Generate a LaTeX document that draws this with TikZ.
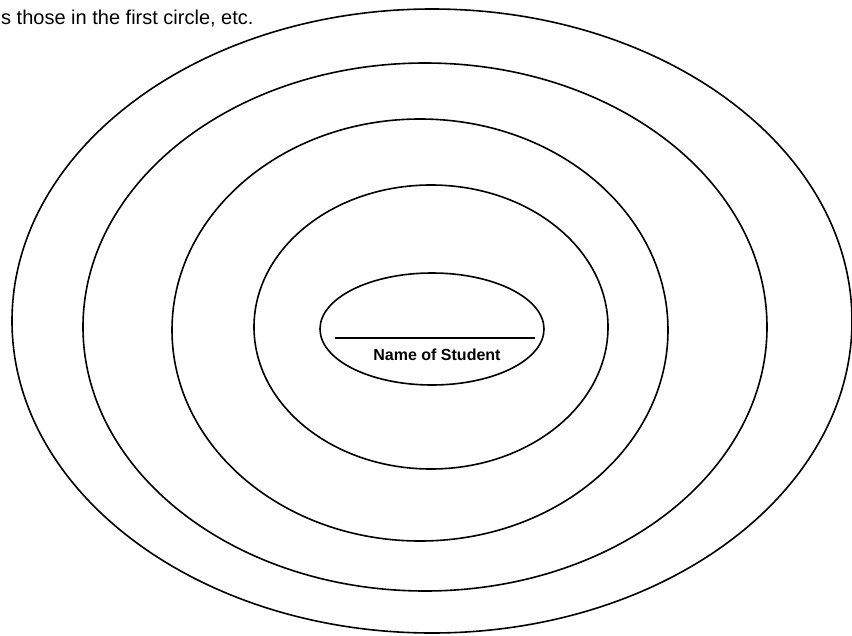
\documentclass[tikz,border=0pt]{standalone}
\usepackage{fontspec}
\setmainfont{Liberation Sans}
\usepackage{tikz}

\begin{document}
\begin{tikzpicture}[x=1pt, y=-1pt]

    % Frame (page size)
    \useasboundingbox (0,0) rectangle (852,635);
    \clip (0,0) rectangle (852,635);

    \tikzset{ring/.style={line width=1.6pt}}

    % Instruction text (cut off at the left)
    \node[anchor=base west, inner sep=0pt, font=\fontsize{20}{22}\selectfont]
        (caption) at (1,24) {s those in the first circle, etc.};

    % Fifth ring (outermost)
    \draw[ring] (432,321) ellipse [x radius=420, y radius=312];

    % Fourth ring
    \draw[ring] (425,327) ellipse [x radius=342, y radius=264];

    % Third ring
    \draw[ring] (420,330) ellipse [x radius=248, y radius=211];

    % Second ring
    \draw[ring] (431,327) ellipse [x radius=177, y radius=142];

    % Centre: student
    \draw[ring] (432,329) ellipse [x radius=112, y radius=56];

    % Name line
    \draw[line width=1.6pt] (335,338) -- (535,338);
    \node[anchor=base, inner sep=0pt, font=\bfseries\fontsize{16}{18}\selectfont]
        (student) at (437,360) {Name of Student};

\end{tikzpicture}
\end{document}
